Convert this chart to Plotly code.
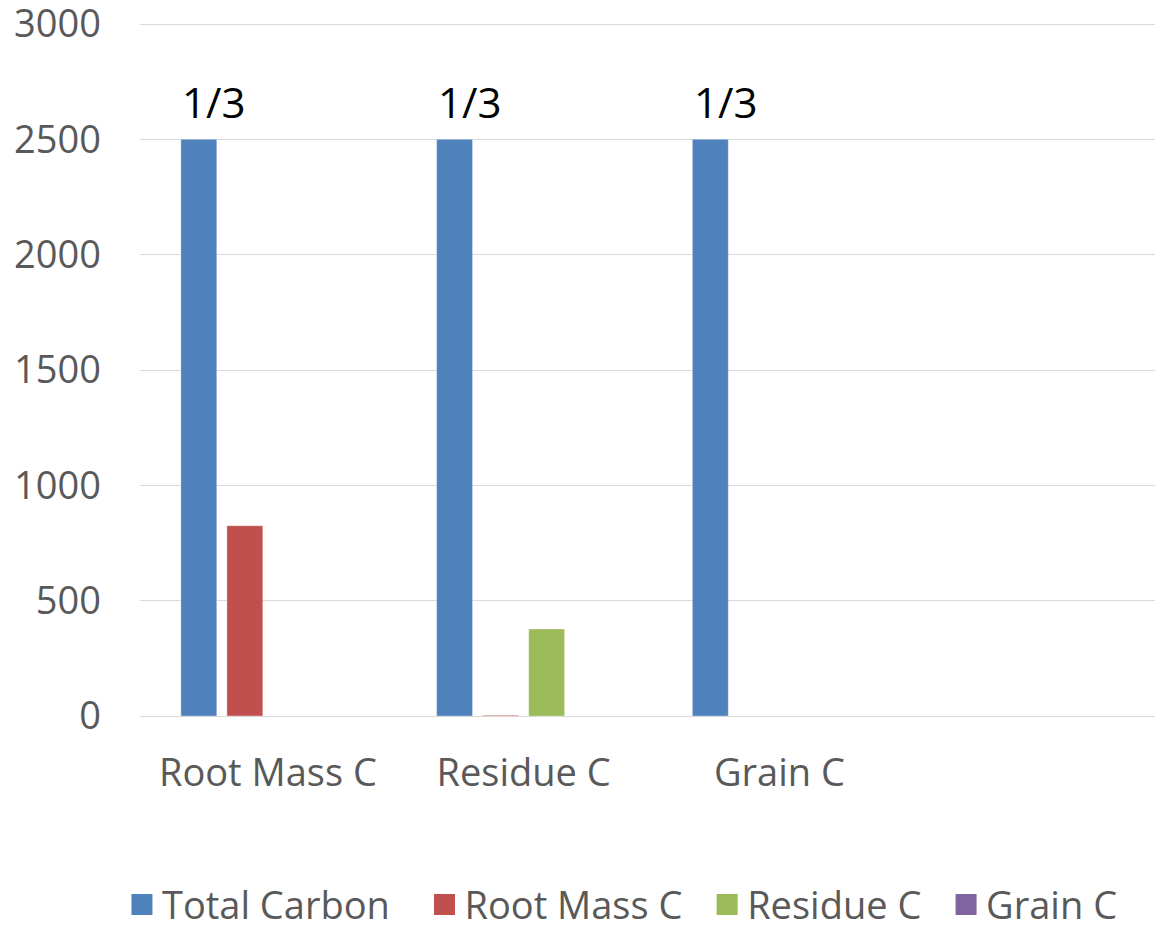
import plotly.graph_objects as go

categories = ["Root Mass C", "Residue C", "Grain C", " "]
series_names = ["Total Carbon", "Root Mass C", "Residue C", "Grain C"]
total_carbon = [2500, 2500, 2500, None]
root_mass_c = [825, 3, 0, None]
residue_c = [0, 377, 0, None]
grain_c = [0, 0, 0, None]
annot_labels = ["1/3", "1/3", "1/3"]
y_ticks = [0, 500, 1000, 1500, 2000, 2500, 3000]

colors = ["#4F81BD", "#C0504D", "#9BBB59", "#8064A2"]
legend_pads = ["\u00a0" * 3, "\u00a0" * 2, "\u00a0" * 2, ""]
FONT = "Open Sans"

fig = go.Figure()
for name, vals, col in zip(series_names, [total_carbon, root_mass_c, residue_c, grain_c], colors):
    fig.add_trace(go.Bar(
        x=categories, y=vals, name=name, showlegend=False, legendgroup=name,
        marker=dict(color=col, line=dict(color="rgba(255,255,255,0.35)", width=1)),
    ))
# legend entries (larger square swatches)
for name, col, p in zip(series_names, colors, legend_pads):
    fig.add_trace(go.Scatter(
        x=[None], y=[None], mode="markers", name=name + p, legendgroup=name,
        marker=dict(symbol="square", size=16, color=col, line=dict(color=col, width=5)),
    ))

for cat, lab, v in zip(categories, annot_labels, total_carbon):
    fig.add_annotation(x=cat, y=v, text=lab, showarrow=False, xref="x", yref="y",
                       xshift=-54, yshift=38, yanchor="middle",
                       font=dict(family=FONT, size=42, color="#000000"))

fig.update_layout(
    width=1155, height=917,
    margin=dict(l=132, r=0, t=14, b=209, autoexpand=False),
    paper_bgcolor="white", plot_bgcolor="white",
    barmode="group", bargap=0.28, bargroupgap=0.22,
    font=dict(family=FONT, size=38, color="#595959"),
    showlegend=True,
    legend=dict(orientation="h", xref="container", x=0.532, xanchor="center",
                y=-0.272, yanchor="middle", itemsizing="trace",
                font=dict(family=FONT, size=38, color="#595959"),
                traceorder="normal"),
    xaxis=dict(showgrid=False, showline=True, linecolor="#D9D9D9", linewidth=1,
               ticks="", ticklabelstandoff=23, tickangle=0,
               tickfont=dict(family=FONT, size=38, color="#595959"),
               fixedrange=True),
    yaxis=dict(range=[0, 3008.7], tickvals=y_ticks, showgrid=True, gridcolor="#D9D9D9", gridwidth=1,
               zeroline=False, showline=False, ticks="", ticklabelstandoff=38,
               ticklabeloverflow="allow",
               tickfont=dict(family=FONT, size=38, color="#595959")),
)

fig.write_html("out.html")
